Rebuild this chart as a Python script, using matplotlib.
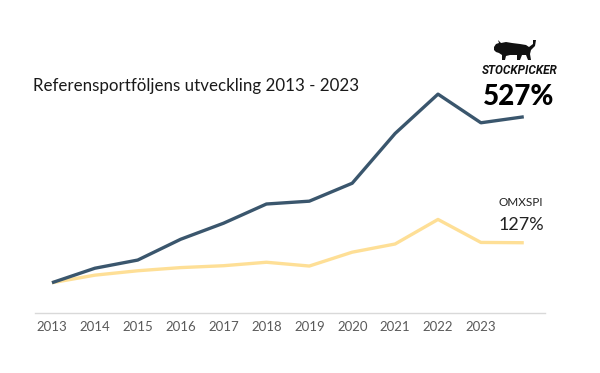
import matplotlib
matplotlib.use("Agg")
import matplotlib.pyplot as plt
from matplotlib.patches import Polygon

# utveckling i procent sedan 2013 (sista punkten = idag)
years = [2013, 2014, 2015, 2016, 2017, 2018, 2019, 2020, 2021, 2022, 2023, 2024]
tick_labels = ["2013", "2014", "2015", "2016", "2017", "2018",
               "2019", "2020", "2021", "2022", "2023"]
stockpicker = [0, 46, 72, 138, 189, 250, 259, 316, 474, 599, 508, 527]
omxspi = [0, 24, 38, 48, 54, 65, 53, 97, 123, 201, 128, 127]

plt.rcParams['font.family'] = ['Lato', 'DejaVu Sans']

W, H = 600, 373
fig = plt.figure(figsize=(6, 3.73), dpi=100)
ax = fig.add_axes([0.058, 0.161, 0.85, 0.785])

x = list(range(len(years)))
ax.plot(x, omxspi, color='#fedf96', lw=2.4, solid_capstyle='butt', zorder=2)
ax.plot(x, stockpicker, color='#3a566d', lw=2.4, solid_capstyle='butt', zorder=3)

ax.set_xlim(-0.40, 11.49)
ax.set_ylim(-96, 834)
ax.set_xticks(range(len(tick_labels)))
ax.set_xticklabels(tick_labels, fontsize=9.5, color='#5a5a5a')
ax.tick_params(axis='x', length=0, pad=6)
ax.set_yticks([])
for s in ['top', 'left', 'right']:
    ax.spines[s].set_visible(False)
ax.spines['bottom'].set_color('#d9d9d9')
ax.spines['bottom'].set_linewidth(1)

fig.text(33 / W, 1 - 86 / H, "Referensportföljens utveckling 2013 - 2023",
         fontsize=12.2, color='#1a1a1a', va='center', ha='left')

# enkel tjur-silhuett ovanfor logotypen
bull = [(494, 47), (496, 44), (499, 43), (498, 40), (501, 43), (506, 42),
        (512, 43), (520, 44), (526, 45), (529, 47), (533, 44), (533, 40),
        (536, 40), (535, 46), (531, 50), (530, 54), (531, 60), (528, 60),
        (526, 55), (522, 55), (520, 60), (517, 60), (517, 55), (510, 55),
        (506, 56), (505, 60), (502, 60), (502, 55), (499, 53), (496, 52),
        (494, 50)]
fig.patches.append(Polygon([(px / W, 1 - py / H) for px, py in bull],
                           closed=True, transform=fig.transFigure,
                           facecolor='#111111', edgecolor='none'))

fig.text(520 / W, 1 - 70 / H, "STOCKPICKER", fontsize=8.5, fontweight='bold',
         style='italic', family=['Roboto', 'DejaVu Sans'], color='#111111',
         ha='center', va='center')
fig.text(519 / W, 1 - 97 / H, "527%", fontsize=20, fontweight='black',
         color='#000000', ha='center', va='center')
fig.text(521 / W, 1 - 203 / H, "OMXSPI", fontsize=8.5, color='#222222',
         ha='center', va='center')
fig.text(521 / W, 1 - 225 / H, "127%", fontsize=13, color='#222222',
         ha='center', va='center')

fig.savefig("out.png", dpi=100)
